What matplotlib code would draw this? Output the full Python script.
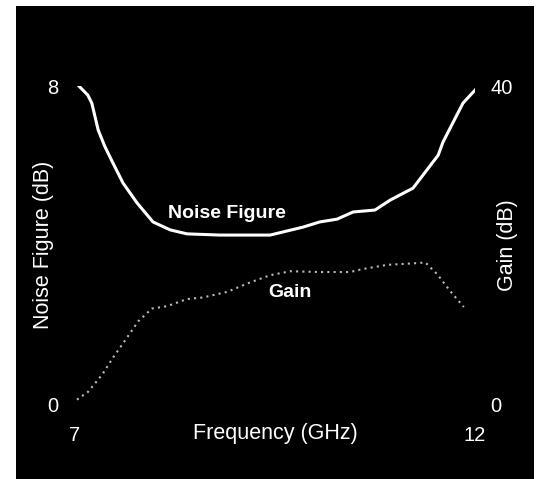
import matplotlib
matplotlib.use('Agg')
import matplotlib.pyplot as plt
from matplotlib.patches import Rectangle

# noise figure trace (GHz, dB)
nf_freq = [7.0, 7.16, 7.21, 7.29, 7.375, 7.475, 7.6, 7.775, 7.975, 8.19, 8.4, 8.81,
           9.44, 9.85, 10.06, 10.275, 10.475, 10.75, 10.94, 11.225, 11.54, 11.6,
           11.85, 12.025]
nf_db = [8.1, 7.77, 7.57, 6.89, 6.47, 6.06, 5.56, 5.06, 4.58, 4.38, 4.28, 4.25,
         4.25, 4.45, 4.58, 4.65, 4.83, 4.88, 5.13, 5.43, 6.26, 6.59, 7.57, 7.95]

# gain trace (GHz, dB)
gain_freq = [6.96, 7.16, 7.34, 7.48, 7.64, 7.79, 7.96, 8.15, 8.4, 8.6, 8.9, 9.19,
             9.44, 9.69, 10.06, 10.44, 10.61, 10.9, 11.24, 11.38, 11.53, 11.69, 11.86]
gain_db = [0.1, 1.5, 3.7, 5.9, 8.2, 10.4, 12.0, 12.3, 13.2, 13.4, 14.1, 15.3,
           16.2, 16.7, 16.6, 16.6, 17.0, 17.5, 17.7, 17.8, 16.3, 14.2, 12.2]

W, H = 537, 479
plt.rcParams['font.family'] = ['Liberation Sans', 'DejaVu Sans']

fig = plt.figure(figsize=(W / 100, H / 100), dpi=100, facecolor='white')
# black print area, drawn behind the axes
fig.patches.append(Rectangle((16 / W, 0), (534 - 16) / W, (H - 6) / H,
                             transform=fig.transFigure, facecolor='black',
                             edgecolor='none', zorder=-10))

ax = fig.add_axes([75 / W, 75 / H, 400 / W, 318 / H])
ax.patch.set_visible(False)
ax.plot(nf_freq, nf_db, color='white', lw=2.2, solid_capstyle='round',
        solid_joinstyle='round')
ax.set_xlim(7, 12)
ax.set_ylim(0, 8)
ax.set_xticks([7, 12])
ax.set_yticks([0, 8])
ax.tick_params(colors='white', length=0, labelsize=14.5)
ax.tick_params(axis='y', pad=12)
ax.tick_params(axis='x', pad=16)
for s in ax.spines.values():
    s.set_visible(False)
ax.set_xlabel('Frequency (GHz)', color='white', fontsize=15.5, labelpad=-16)
ax.set_ylabel('Noise Figure (dB)', color='white', fontsize=15.5, labelpad=-5)

ax2 = ax.twinx()
ax2.patch.set_visible(False)
ax2.plot(gain_freq, gain_db, color='#bbbbbb', lw=1.5, ls=(0, (1, 2)))
ax2.set_ylim(0, 40)
ax2.set_yticks([0, 40])
ax2.tick_params(colors='white', length=0, labelsize=14.5, pad=11)
for s in ax2.spines.values():
    s.set_visible(False)
ax2.set_ylabel('Gain (dB)', color='white', fontsize=15.5, labelpad=-11)

ax.text(8.9, 4.8, 'Noise Figure', color='white', fontsize=14, fontweight='bold',
        ha='center', va='center')
ax2.text(9.69, 14.05, 'Gain', color='white', fontsize=14, fontweight='bold',
         ha='center', va='center')

fig.savefig('out.png', dpi=100, facecolor='white')
